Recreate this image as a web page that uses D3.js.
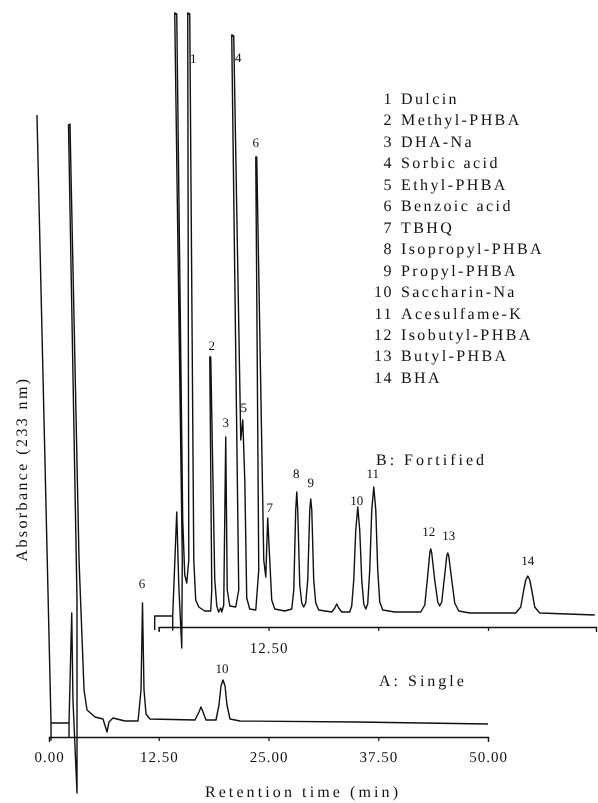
<!DOCTYPE html>
<html>
<head>
<meta charset="utf-8">
<script src="https://cdn.jsdelivr.net/npm/d3@7/dist/d3.min.js"></script>
<style>
  html, body { margin: 0; padding: 0; background: #fff; }
  svg { display: block; will-change: transform; }
  text { font-family: "Liberation Serif", "Times New Roman", serif; fill: #111;
         text-rendering: geometricPrecision; -webkit-font-smoothing: antialiased; }
</style>
</head>
<body>
<div id="chart"></div>
<script>
// ---------------- DATA ----------------
// Retention time axis (min)
const timeTicks = [0, 12.5, 25, 37.5, 50];
const timeTickLabels = ["0.00", "12.50", "25.00", "37.50", "50.00"];
const fortifiedTicks = [0, 12.5, 25, 37.5];
const fortifiedTickLabels = ["", "12.50", "", ""];
// Fortified trace is drawn offset (time, absorbance units)
const fortifiedShift = [12.5, 110];

// Trace A: single sample  [time (min), absorbance (rel. units)]
const traceSingle = [
  [-1.37, 622], [0.23, 14], [0.23, -3], [0.23, 14], [2.28, 14], [2.28, 0], [2.28, 14],
  [2.59, 124], [2.73, 37], [3.19, -56], [3.19, 137], [2.22, 612], [2.39, 613],
  [3.42, 177], [3.99, 47], [4.33, 27], [5.24, 20], [6.15, 18], [6.61, 5], [6.83, 15],
  [7.29, 19], [7.74, 18], [8.66, 16], [10.14, 16], [10.48, 47], [10.65, 134],
  [10.82, 47], [11.05, 23], [11.5, 18], [16.63, 17], [17.08, 25], [17.31, 30],
  [17.54, 25], [17.88, 17], [19.02, 17], [19.36, 32], [19.59, 51], [19.82, 57],
  [20.05, 51], [20.27, 32], [20.62, 18], [21.75, 16], [35.0, 15], [50.0, 13]
];

// Trace B: fortified sample [time (min), absorbance (rel. units)] in its own frame
const traceFortified = [
  [-0.46, -3], [-0.46, 11], [1.59, 11], [1.59, -3], [1.59, 11], [2.05, 115], [2.28, 42],
  [2.62, -21], [2.68, 67], [1.82, 614], [2.05, 613], [2.73, 107], [2.96, 52], [3.19, 44],
  [3.42, 67], [3.30, 614], [3.53, 613], [3.99, 67], [4.21, 27], [4.56, 20], [5.24, 16],
  [5.92, 16], [6.04, 37], [5.81, 270], [5.92, 270], [6.38, 47], [6.61, 21], [6.83, 15],
  [7.06, 19], [7.18, 15], [7.40, 22], [7.63, 190], [7.80, 37], [8.09, 21], [8.77, 20],
  [9.11, 37], [8.31, 592], [8.54, 591], [9.34, 187], [9.57, 207], [9.80, 147],
  [10.02, 29], [10.36, 18], [11.05, 17], [11.39, 57], [11.05, 470], [11.16, 470],
  [11.96, 67], [12.19, 50], [12.41, 109], [12.64, 67], [12.87, 27], [13.21, 18],
  [14.35, 16], [15.15, 18], [15.38, 37], [15.60, 117], [15.72, 135], [15.83, 117],
  [16.06, 42], [16.29, 24], [16.51, 20], [16.74, 24], [16.97, 47], [17.20, 117],
  [17.31, 128], [17.43, 117], [17.65, 47], [17.88, 24], [18.22, 17], [19.70, 15],
  [20.05, 19], [20.27, 23], [20.50, 19], [20.84, 15], [21.75, 15], [21.98, 21],
  [22.21, 47], [22.44, 97], [22.67, 120], [22.89, 97], [23.12, 47], [23.35, 23],
  [23.58, 18], [23.80, 23], [24.03, 57], [24.26, 117], [24.49, 140], [24.72, 117],
  [24.94, 57], [25.17, 25], [25.51, 17], [26.88, 15], [29.84, 15], [30.30, 22],
  [30.64, 52], [30.87, 74], [30.98, 78], [31.09, 74], [31.43, 47], [31.78, 25],
  [32.00, 21], [32.23, 25], [32.57, 52], [32.80, 71], [32.92, 74], [33.03, 71],
  [33.37, 47], [33.71, 24], [34.17, 16], [35.42, 14], [40.66, 14], [41.23, 20],
  [41.57, 37], [41.80, 47], [42.03, 51], [42.26, 47], [42.48, 37], [42.82, 20],
  [43.39, 14], [49.66, 12]
];

// Peak labels [label, time, absorbance]
const peakLabelsSingle = [["6", 10.59, 149], ["10", 19.70, 64]];
const peakLabelsFortified = [
  ["1", 3.93, 564], ["2", 6.04, 277], ["3", 7.63, 200], ["4", 9.05, 565],
  ["5", 9.68, 215], ["6", 11.05, 480], ["7", 12.64, 115], ["8", 15.66, 149],
  ["9", 17.31, 140], ["10", 22.55, 122], ["11", 24.37, 149], ["12", 30.75, 91],
  ["13", 33.03, 87], ["14", 42.03, 62]
];

// Legend of compounds
const compounds = [
  "Dulcin", "Methyl-PHBA", "DHA-Na", "Sorbic acid", "Ethyl-PHBA", "Benzoic acid",
  "TBHQ", "Isopropyl-PHBA", "Propyl-PHBA", "Saccharin-Na", "Acesulfame-K",
  "Isobutyl-PHBA", "Butyl-PHBA", "BHA"
];
const traceNames = ["A: Single", "B: Fortified"];
const axisTitles = ["Retention time (min)", "Absorbance (233 nm)"];

// ---------------- CHART ----------------
const W = 598, H = 803;
const svg = d3.select("#chart").append("svg").attr("width", W).attr("height", H);
svg.append("rect").attr("width", W).attr("height", H).attr("fill", "#fff");

const x = d3.scaleLinear().domain([0, 50]).range([49, 488]);
const y = d3.scaleLinear().domain([0, 700]).range([737, 37]);
const bEnd = 49.8;
const xB = d3.scaleLinear().domain([0, bEnd])
  .range([x(fortifiedShift[0]), x(fortifiedShift[0] + bEnd)]);
const yB = d3.scaleLinear().domain([0, 700])
  .range([y(fortifiedShift[1]), y(fortifiedShift[1] + 700)]);

const ink = "#111";

// Axis A
const axA = svg.append("g").attr("transform", `translate(0,${y(0)})`)
  .call(d3.axisBottom(x).tickValues(timeTicks)
    .tickFormat((d, i) => timeTickLabels[i]).tickSize(4).tickSizeOuter(5).tickPadding(10));
// Axis B
const axB = svg.append("g").attr("transform", `translate(0,${yB(0)})`)
  .call(d3.axisBottom(xB).tickValues(fortifiedTicks)
    .tickFormat((d, i) => fortifiedTickLabels[i]).tickSize(4).tickSizeOuter(5).tickPadding(11));

[axA, axB].forEach(g => {
  g.select(".domain").attr("stroke", ink).attr("stroke-width", 1.3);
  g.selectAll(".tick line").attr("stroke", ink).attr("stroke-width", 1.2);
  g.selectAll(".tick text").attr("fill", ink)
    .style("font-family", '"Liberation Serif", serif')
    .style("font-size", "15px").style("letter-spacing", "1px");
});

// traces
const lineA = d3.line().x(d => x(d[0])).y(d => y(d[1]));
const lineB = d3.line().x(d => xB(d[0])).y(d => yB(d[1]));

svg.append("path").datum(traceSingle).attr("d", lineA)
  .attr("fill", "none").attr("stroke", ink).attr("stroke-width", 1.4)
  .attr("stroke-linejoin", "round");
svg.append("path").datum(traceFortified).attr("d", lineB)
  .attr("fill", "none").attr("stroke", ink).attr("stroke-width", 1.4)
  .attr("stroke-linejoin", "round");

// peak labels
svg.append("g").selectAll("text").data(peakLabelsSingle).join("text")
  .attr("x", d => x(d[1])).attr("y", d => y(d[2]))
  .attr("text-anchor", "middle").style("font-size", "13px").text(d => d[0]);
svg.append("g").selectAll("text").data(peakLabelsFortified).join("text")
  .attr("x", d => xB(d[1])).attr("y", d => yB(d[2]))
  .attr("text-anchor", "middle").style("font-size", "13px").text(d => d[0]);

// legend
const leg = svg.append("g");
compounds.forEach((c, i) => {
  const by = 104 + i * 21.45;
  leg.append("text").attr("x", 393).attr("y", by).attr("text-anchor", "end")
    .style("font-size", "16px").style("letter-spacing", "1.5px").text(i + 1);
  leg.append("text").attr("x", 401).attr("y", by)
    .style("font-size", "16px").style("letter-spacing", "2.4px").text(c);
});

// trace names
svg.append("text").attr("x", 379).attr("y", 686)
  .style("font-size", "16px").style("letter-spacing", "3px").text(traceNames[0]);
svg.append("text").attr("x", 376).attr("y", 465)
  .style("font-size", "16px").style("letter-spacing", "3px").text(traceNames[1]);

// axis titles
svg.append("text").attr("x", 303).attr("y", 797).attr("text-anchor", "middle")
  .style("font-size", "16px").style("letter-spacing", "3.1px").text(axisTitles[0]);
svg.append("text").attr("transform", "translate(27,469) rotate(-90)")
  .attr("text-anchor", "middle")
  .style("font-size", "16px").style("letter-spacing", "2.4px").text(axisTitles[1]);
</script>
</body>
</html>
